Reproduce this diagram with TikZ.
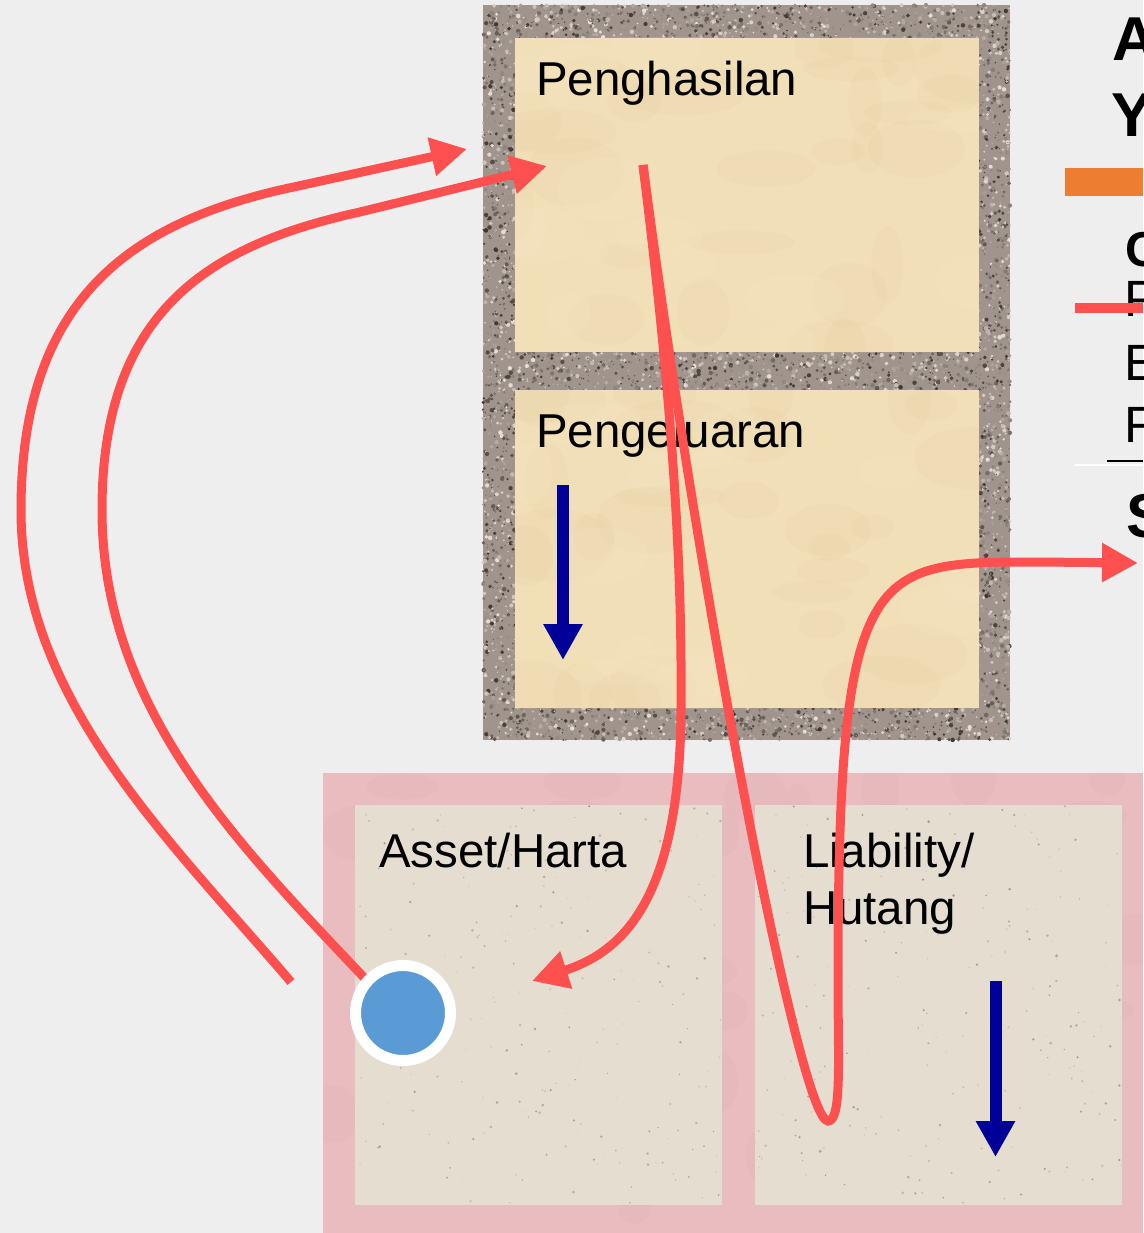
\documentclass[tikz,border=0pt]{standalone}
\usepackage{fontspec}
\setmainfont{Liberation Sans}
\usetikzlibrary{arrows.meta}
\definecolor{bg}{HTML}{EEEEEE}
\definecolor{gran}{HTML}{A0948C}
\definecolor{granD}{HTML}{3E3530}
\definecolor{granL}{HTML}{E8E0D8}
\definecolor{parch}{HTML}{F1DFB8}
\definecolor{parchD}{HTML}{E0C796}
\definecolor{parchL}{HTML}{F8EACB}
\definecolor{pinkb}{HTML}{E9BDC0}
\definecolor{pinkD}{HTML}{D6A2A7}
\definecolor{sand}{HTML}{E5DDD0}
\definecolor{sandD}{HTML}{A29A8F}
\definecolor{flow}{HTML}{FF5050}
\definecolor{navy}{HTML}{000099}
\definecolor{orangebar}{HTML}{ED7D31}
\definecolor{dotblue}{HTML}{5B9BD5}
\newcommand\mygrain[8]{%
  \foreach \k in {1,...,#5}{%
    \pgfmathsetmacro\gx{#1+#3*rnd}%
    \pgfmathsetmacro\gy{#2+#4*rnd}%
    \pgfmathsetmacro\gr{0.5+#8*rnd}%
    \pgfmathtruncatemacro\gp{100*rnd}%
    \fill[#6!\gp!#7] (\gx,\gy) circle[radius=\gr];
  }}
\newcommand\myblot[8]{%
  \foreach \k in {1,...,#5}{%
    \pgfmathsetmacro\gx{#1+#3*rnd}%
    \pgfmathsetmacro\gy{#2+#4*rnd}%
    \pgfmathsetmacro\ga{15+#7*rnd}%
    \pgfmathsetmacro\gb{10+0.6*#7*rnd}%
    \fill[#6, opacity=#8] (\gx,\gy) ellipse[x radius=\ga, y radius=\gb];
  }}
\tikzset{
  panel/.style={draw=none, inner sep=0pt, outer sep=0pt, anchor=north west},
  lbl/.style={anchor=base west, inner sep=0pt, outer sep=0pt, font=\fontsize{47.5}{57}\selectfont},
  side/.style={anchor=base west, inner sep=0pt, outer sep=0pt, font=\fontsize{51}{60}\selectfont},
  sidebold/.style={anchor=base west, inner sep=0pt, outer sep=0pt, font=\fontsize{62}{70}\selectfont\bfseries},
  flowline/.style={draw=flow, line width=9pt, -{Triangle[length=36pt,width=37pt]}},
  downarrow/.style={draw=navy, line width=12pt, -{Triangle[length=36pt,width=37pt]}},
}
\begin{document}
\begin{tikzpicture}[x=1pt, y=-1pt]
\pgfmathsetseed{4242}
\useasboundingbox (0,0) rectangle (1143,1233);
\fill[bg] (0,0) rectangle (1143,1233);

% upper granite frame
\node[panel, fill=gran, minimum width=527pt, minimum height=735pt] (upper) at (483,5) {};
\mygrain{483}{5}{527}{33}{850}{granD}{granL}{1.8}
\mygrain{483}{708}{527}{32}{820}{granD}{granL}{1.8}
\mygrain{483}{38}{32}{670}{1000}{granD}{granL}{1.8}
\mygrain{978}{38}{32}{670}{1000}{granD}{granL}{1.8}
\mygrain{515}{352}{463}{38}{850}{granD}{granL}{1.8}

\node[panel, fill=parch, minimum width=464pt, minimum height=314pt] (inc) at (515,38) {};
\node[panel, fill=parch, minimum width=464pt, minimum height=318pt] (exp) at (515,390) {};
\begin{scope}
  \clip (515,38) rectangle (979,352);
  \myblot{515}{38}{464}{314}{28}{parchD}{50}{0.1}
  \myblot{515}{38}{464}{314}{14}{parchL}{40}{0.15}
\end{scope}
\begin{scope}
  \clip (515,390) rectangle (979,708);
  \myblot{515}{390}{464}{318}{28}{parchD}{50}{0.1}
  \myblot{515}{390}{464}{318}{14}{parchL}{40}{0.15}
\end{scope}

% lower pink frame
\node[panel, fill=pinkb, minimum width=820pt, minimum height=460pt] (lower) at (323,773) {};
\begin{scope}
  \clip (323,773) rectangle (1143,1233);
  \myblot{323}{773}{820}{460}{40}{pinkD}{40}{0.12}
\end{scope}
\node[panel, fill=sand, minimum width=367pt, minimum height=400pt] (asset) at (355,805) {};
\node[panel, fill=sand, minimum width=367pt, minimum height=400pt] (liab) at (755,805) {};
\mygrain{355}{805}{367}{400}{260}{sandD}{sand}{1.0}
\mygrain{755}{805}{367}{400}{260}{sandD}{sand}{1.0}

% labels
\node[lbl] (tinc) at (536,96) {Penghasilan};
\node[lbl] (texp) at (536,447) {Pengeluaran};
\node[lbl] (tast) at (379,867) {Asset/Harta};
\node[lbl] (tlia) at (803,867) {Liability/};
\node[lbl] (thut) at (803,924) {Hutang};

% right side (cut off) content
\node[sidebold] (ta) at (1112,61) {A};
\node[sidebold] (ty) at (1111,137) {Y};
\fill[orangebar] (1065,168) rectangle (1143,196);
\node[anchor=base west, inner sep=0pt, font=\fontsize{49}{56}\selectfont\bfseries] (tc) at (1125,266) {C};
\node[side] (tp) at (1124,316) {P};
\draw[flow, line width=10pt] (1075,308) -- (1143,308);
\node[side] (te) at (1124,380) {E};
\node[side] (tf) at (1124,442) {F};
\draw[black, line width=2pt] (1107,461) -- (1143,461);
\draw[white, line width=2.5pt] (1075,465) -- (1143,465);
\node[sidebold] (ts) at (1126,537) {S};

% blue arrows
\coordinate (b1s) at (563,485);
\coordinate (b1e) at (563,660);
\draw[downarrow] (b1s) -- (b1e);
\coordinate (b2s) at (995.5,981);
\coordinate (b2e) at (995.5,1157);
\draw[downarrow] (b2s) -- (b2e);

% red flow curves
\coordinate (s1) at (291,982);
\coordinate (e1) at (467,149);
\coordinate (s2) at (385,1000);
\coordinate (e2) at (547,166);
\coordinate (s3) at (643,165);
\coordinate (e3) at (532,981);
\coordinate (e4) at (1138,563);

\draw[flowline] (s1) .. controls (170,840) and (21,700) .. (21,510)
  .. controls (21,300) and (130,225) .. (280,190) -- (e1);
\draw[flowline] (s2) .. controls (255,860) and (102,720) .. (102,510)
  .. controls (102,310) and (210,245) .. (360,212) -- (e2);
\draw[flowline] (s3) .. controls (672,400) and (682,560) .. (681,700)
  .. controls (682,900) and (622,952) .. (e3);
\draw[flowline] (s3) .. controls (700,600) and (800,1121) .. (828,1121)
  .. controls (842,1121) and (838,1060) .. (838,980)
  .. controls (838,560) and (870,562) .. (1040,562) -- (e4);

% asset dot
\node[circle, fill=dotblue, draw=white, line width=11pt, minimum size=95pt, inner sep=0pt] (dot) at (403,1013) {};
\end{tikzpicture}
\end{document}
